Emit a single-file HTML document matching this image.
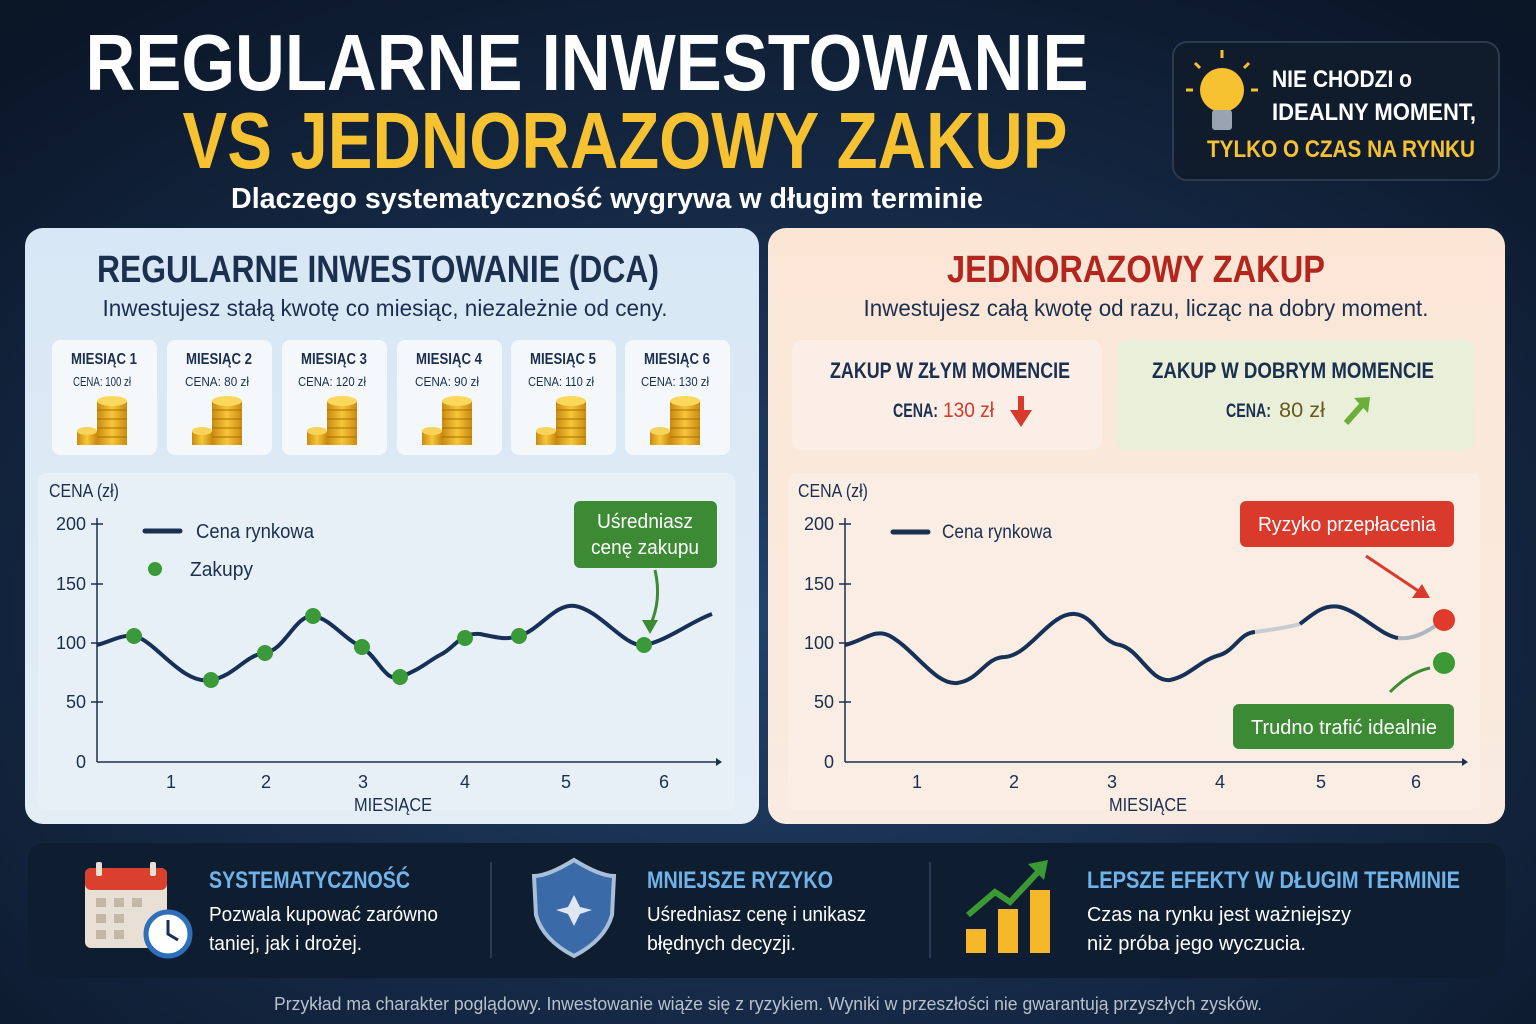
<!DOCTYPE html>
<html><head><meta charset="utf-8"><style>
html,body{margin:0;padding:0;width:1536px;height:1024px;overflow:hidden;background:#0c1a2e}
svg{display:block}
text{font-family:"Liberation Sans","DejaVu Sans",sans-serif}
</style></head><body>
<svg width="1536" height="1024" viewBox="0 0 1536 1024" xmlns="http://www.w3.org/2000/svg">
<defs>
<radialGradient id="bg" cx="50%" cy="60%" r="75%"><stop offset="0" stop-color="#22416a"/><stop offset="1" stop-color="#0a1526"/></radialGradient>
<linearGradient id="lp" x1="0" y1="0" x2="0" y2="1"><stop offset="0" stop-color="#d7e7f5"/><stop offset="1" stop-color="#e3edf6"/></linearGradient>
<linearGradient id="rp" x1="0" y1="0" x2="0" y2="1"><stop offset="0" stop-color="#fbe6d6"/><stop offset="1" stop-color="#f9ebe0"/></linearGradient>
<linearGradient id="gold" x1="0" y1="0" x2="1" y2="0"><stop offset="0" stop-color="#c98a10"/><stop offset=".5" stop-color="#f7c638"/><stop offset="1" stop-color="#c98a10"/></linearGradient>
<g id="coins">
<rect x="-20" y="8" width="20" height="14" fill="url(#gold)"/><ellipse cx="-10" cy="8" rx="10" ry="4" fill="#f8d35a"/>
<rect x="0" y="-22" width="30" height="44" fill="url(#gold)"/>
<g stroke="#a86e08" stroke-width="1"><line x1="0" y1="-13" x2="30" y2="-13"/><line x1="0" y1="-4" x2="30" y2="-4"/><line x1="0" y1="5" x2="30" y2="5"/><line x1="0" y1="14" x2="30" y2="14"/></g>
<ellipse cx="15" cy="-22" rx="15" ry="5" fill="#fbd85c"/>
</g>
</defs>
<rect width="1536" height="1024" fill="url(#bg)"/>

<text x="587" y="90" text-anchor="middle" font-size="80" font-weight="bold" fill="#fff" textLength="1003" lengthAdjust="spacingAndGlyphs">REGULARNE INWESTOWANIE</text>
<text x="625" y="168" text-anchor="middle" font-size="80" font-weight="bold" fill="#f6c232" textLength="885" lengthAdjust="spacingAndGlyphs">VS JEDNORAZOWY ZAKUP</text>
<text x="607" y="208" text-anchor="middle" font-size="29" font-weight="bold" fill="#fff" textLength="752" lengthAdjust="spacingAndGlyphs">Dlaczego systematyczność wygrywa w długim terminie</text>

<rect x="1173" y="42" width="326" height="138" rx="14" fill="#101c2c" stroke="#2a3a50" stroke-width="2"/>
<circle cx="1222" cy="90" r="22" fill="#f6c232"/><rect x="1212" y="110" width="20" height="20" rx="3" fill="#9aa4b0"/>
<g stroke="#f6c232" stroke-width="3"><line x1="1222" y1="58" x2="1222" y2="50"/><line x1="1193" y1="90" x2="1186" y2="90"/><line x1="1251" y1="90" x2="1258" y2="90"/><line x1="1200" y1="68" x2="1195" y2="63"/><line x1="1244" y1="68" x2="1249" y2="63"/></g>
<text x="1272" y="87" font-size="24" font-weight="bold" fill="#fff" textLength="140" lengthAdjust="spacingAndGlyphs">NIE CHODZI o</text>
<text x="1272" y="120" font-size="24" font-weight="bold" fill="#fff" textLength="204" lengthAdjust="spacingAndGlyphs">IDEALNY MOMENT,</text>
<text x="1207" y="157" font-size="24" font-weight="bold" fill="#f6c232" textLength="268" lengthAdjust="spacingAndGlyphs">TYLKO O CZAS NA RYNKU</text>

<rect x="25" y="228" width="734" height="596" rx="18" fill="url(#lp)"/>
<text x="378" y="282" text-anchor="middle" font-size="38" font-weight="bold" fill="#1b2f4f" textLength="562" lengthAdjust="spacingAndGlyphs">REGULARNE INWESTOWANIE (DCA)</text>
<text x="385" y="316" text-anchor="middle" font-size="23" fill="#1b2f4f" textLength="565" lengthAdjust="spacingAndGlyphs">Inwestujesz stałą kwotę co miesiąc, niezależnie od ceny.</text>
<g font-size="16">
<g transform="translate(52,340)"><rect width="105" height="115" rx="8" fill="#f4f8fb"/><text x="52" y="24" text-anchor="middle" font-weight="bold" fill="#1b2f4f" textLength="66" lengthAdjust="spacingAndGlyphs">MIESIĄC 1</text><text x="50" y="46" text-anchor="middle" font-size="13" fill="#1b2f4f" textLength="58" lengthAdjust="spacingAndGlyphs">CENA: 100 zł</text><use href="#coins" x="45" y="83"/></g>
<g transform="translate(167,340)"><rect width="105" height="115" rx="8" fill="#f4f8fb"/><text x="52" y="24" text-anchor="middle" font-weight="bold" fill="#1b2f4f" textLength="66" lengthAdjust="spacingAndGlyphs">MIESIĄC 2</text><text x="50" y="46" text-anchor="middle" font-size="13" fill="#1b2f4f" textLength="64" lengthAdjust="spacingAndGlyphs">CENA: 80 zł</text><use href="#coins" x="45" y="83"/></g>
<g transform="translate(282,340)"><rect width="105" height="115" rx="8" fill="#f4f8fb"/><text x="52" y="24" text-anchor="middle" font-weight="bold" fill="#1b2f4f" textLength="66" lengthAdjust="spacingAndGlyphs">MIESIĄC 3</text><text x="50" y="46" text-anchor="middle" font-size="13" fill="#1b2f4f" textLength="68" lengthAdjust="spacingAndGlyphs">CENA: 120 zł</text><use href="#coins" x="45" y="83"/></g>
<g transform="translate(397,340)"><rect width="105" height="115" rx="8" fill="#f4f8fb"/><text x="52" y="24" text-anchor="middle" font-weight="bold" fill="#1b2f4f" textLength="66" lengthAdjust="spacingAndGlyphs">MIESIĄC 4</text><text x="50" y="46" text-anchor="middle" font-size="13" fill="#1b2f4f" textLength="64" lengthAdjust="spacingAndGlyphs">CENA: 90 zł</text><use href="#coins" x="45" y="83"/></g>
<g transform="translate(511,340)"><rect width="105" height="115" rx="8" fill="#f4f8fb"/><text x="52" y="24" text-anchor="middle" font-weight="bold" fill="#1b2f4f" textLength="66" lengthAdjust="spacingAndGlyphs">MIESIĄC 5</text><text x="50" y="46" text-anchor="middle" font-size="13" fill="#1b2f4f" textLength="66" lengthAdjust="spacingAndGlyphs">CENA: 110 zł</text><use href="#coins" x="45" y="83"/></g>
<g transform="translate(625,340)"><rect width="105" height="115" rx="8" fill="#f4f8fb"/><text x="52" y="24" text-anchor="middle" font-weight="bold" fill="#1b2f4f" textLength="66" lengthAdjust="spacingAndGlyphs">MIESIĄC 6</text><text x="50" y="46" text-anchor="middle" font-size="13" fill="#1b2f4f" textLength="68" lengthAdjust="spacingAndGlyphs">CENA: 130 zł</text><use href="#coins" x="45" y="83"/></g>
</g>
<rect x="38" y="473" width="697" height="337" rx="8" fill="#e8f0f7"/>
<g font-size="18" fill="#1b2f4f">
<text x="49" y="497" textLength="70" lengthAdjust="spacingAndGlyphs">CENA (zł)</text>
<text x="86" y="530" text-anchor="end">200</text><text x="86" y="590" text-anchor="end">150</text><text x="86" y="649" text-anchor="end">100</text><text x="86" y="708" text-anchor="end">50</text><text x="86" y="768" text-anchor="end">0</text>
<text x="171" y="788" text-anchor="middle">1</text><text x="266" y="788" text-anchor="middle">2</text><text x="363" y="788" text-anchor="middle">3</text><text x="465" y="788" text-anchor="middle">4</text><text x="566" y="788" text-anchor="middle">5</text><text x="664" y="788" text-anchor="middle">6</text>
<text x="393" y="811" text-anchor="middle" textLength="78" lengthAdjust="spacingAndGlyphs">MIESIĄCE</text>
<text x="196" y="538" font-size="20" textLength="118" lengthAdjust="spacingAndGlyphs">Cena rynkowa</text><text x="190" y="576" font-size="20" textLength="63" lengthAdjust="spacingAndGlyphs">Zakupy</text>
</g>
<g stroke="#1b2f4f" stroke-width="1.5"><line x1="97" y1="518" x2="97" y2="762"/><line x1="97" y1="762" x2="716" y2="762"/>
<line x1="91" y1="524" x2="103" y2="524"/><line x1="91" y1="584" x2="103" y2="584"/><line x1="91" y1="643" x2="103" y2="643"/><line x1="91" y1="702" x2="103" y2="702"/></g>
<polygon points="716,758 722,762 716,766" fill="#1b2f4f"/>
<line x1="145" y1="531" x2="180" y2="531" stroke="#1b2f4f" stroke-width="5" stroke-linecap="round"/>
<circle cx="155" cy="569" r="7" fill="#3a9a3a"/>
<path d="M97,645 C115,640 125,632 140,638 C160,648 185,685 211,680 C235,676 245,655 265,653 C285,650 295,615 313,616 C330,618 345,640 362,647 C380,660 385,682 400,677 C420,670 430,660 440,655 C455,648 460,632 480,634 C500,638 505,640 519,636 C540,630 555,603 575,606 C600,610 625,648 644,645 C665,642 690,622 712,614" fill="none" stroke="#173057" stroke-width="4"/>
<g fill="#3a9a3a"><circle cx="134" cy="636" r="8"/><circle cx="211" cy="680" r="8"/><circle cx="265" cy="653" r="8"/><circle cx="313" cy="616" r="8"/><circle cx="362" cy="647" r="8"/><circle cx="400" cy="677" r="8"/><circle cx="465" cy="638" r="8"/><circle cx="519" cy="636" r="8"/><circle cx="644" cy="645" r="8"/></g>
<rect x="574" y="501" width="143" height="67" rx="6" fill="#3c8b34"/>
<text x="645" y="528" text-anchor="middle" font-size="20" fill="#fff" textLength="96" lengthAdjust="spacingAndGlyphs">Uśredniasz</text><text x="645" y="554" text-anchor="middle" font-size="20" fill="#fff" textLength="108" lengthAdjust="spacingAndGlyphs">cenę zakupu</text>
<path d="M655,570 Q662,600 650,626" fill="none" stroke="#3c8b34" stroke-width="3"/><polygon points="642,620 650,634 658,620" fill="#3c8b34"/>

<rect x="768" y="228" width="737" height="596" rx="18" fill="url(#rp)"/>
<text x="1136" y="282" text-anchor="middle" font-size="38" font-weight="bold" fill="#b3261e" textLength="378" lengthAdjust="spacingAndGlyphs">JEDNORAZOWY ZAKUP</text>
<text x="1146" y="316" text-anchor="middle" font-size="23" fill="#1b2f4f" textLength="565" lengthAdjust="spacingAndGlyphs">Inwestujesz całą kwotę od razu, licząc na dobry moment.</text>
<rect x="792" y="340" width="310" height="110" rx="10" fill="#fbeee6"/>
<text x="950" y="378" text-anchor="middle" font-size="22" font-weight="bold" fill="#1b2f4f" textLength="240" lengthAdjust="spacingAndGlyphs">ZAKUP W ZŁYM MOMENCIE</text>
<text x="893" y="417" font-size="19" font-weight="bold" fill="#1b2f4f" textLength="45" lengthAdjust="spacingAndGlyphs">CENA:</text>
<text x="943" y="417" font-size="21" fill="#d63a2a" textLength="51" lengthAdjust="spacingAndGlyphs">130 zł</text>
<path d="M1021,396 L1021,414" stroke="#d63a2a" stroke-width="6"/><polygon points="1010,410 1032,410 1021,427" fill="#d63a2a"/>
<rect x="1116" y="340" width="359" height="110" rx="10" fill="#e9efd9"/>
<text x="1293" y="378" text-anchor="middle" font-size="22" font-weight="bold" fill="#1b2f4f" textLength="282" lengthAdjust="spacingAndGlyphs">ZAKUP W DOBRYM MOMENCIE</text>
<text x="1226" y="417" font-size="19" font-weight="bold" fill="#1b2f4f" textLength="45" lengthAdjust="spacingAndGlyphs">CENA:</text>
<text x="1279" y="417" font-size="21" fill="#6b5a1e" textLength="46" lengthAdjust="spacingAndGlyphs">80 zł</text>
<path d="M1346,423 L1362,405" stroke="#6cae3a" stroke-width="6"/><polygon points="1354,398 1370,397 1368,413" fill="#6cae3a"/>
<rect x="788" y="473" width="692" height="337" rx="8" fill="#faede3"/>
<g font-size="18" fill="#1b2f4f">
<text x="798" y="497" textLength="70" lengthAdjust="spacingAndGlyphs">CENA (zł)</text>
<text x="834" y="530" text-anchor="end">200</text><text x="834" y="590" text-anchor="end">150</text><text x="834" y="649" text-anchor="end">100</text><text x="834" y="708" text-anchor="end">50</text><text x="834" y="768" text-anchor="end">0</text>
<text x="917" y="788" text-anchor="middle">1</text><text x="1014" y="788" text-anchor="middle">2</text><text x="1112" y="788" text-anchor="middle">3</text><text x="1220" y="788" text-anchor="middle">4</text><text x="1321" y="788" text-anchor="middle">5</text><text x="1416" y="788" text-anchor="middle">6</text>
<text x="1148" y="811" text-anchor="middle" textLength="78" lengthAdjust="spacingAndGlyphs">MIESIĄCE</text>
<text x="942" y="538" font-size="19" textLength="110" lengthAdjust="spacingAndGlyphs">Cena rynkowa</text>
</g>
<g stroke="#1b2f4f" stroke-width="1.5"><line x1="845" y1="518" x2="845" y2="762"/><line x1="845" y1="762" x2="1462" y2="762"/>
<line x1="839" y1="524" x2="851" y2="524"/><line x1="839" y1="584" x2="851" y2="584"/><line x1="839" y1="643" x2="851" y2="643"/><line x1="839" y1="702" x2="851" y2="702"/></g>
<polygon points="1462,758 1468,762 1462,766" fill="#1b2f4f"/>
<line x1="893" y1="532" x2="928" y2="532" stroke="#1b2f4f" stroke-width="5" stroke-linecap="round"/>
<path d="M845,645 C865,640 875,628 890,636 C915,650 935,685 957,683 C980,680 985,657 1005,657 C1030,655 1050,612 1075,614 C1095,616 1100,642 1120,645 C1140,650 1150,682 1170,680 C1190,676 1200,660 1220,655 C1235,650 1240,633 1255,632" fill="none" stroke="#173057" stroke-width="4"/>
<path d="M1255,632 C1270,630 1285,628 1300,624" fill="none" stroke="#c8ccd2" stroke-width="4"/>
<path d="M1300,624 C1315,612 1325,604 1340,607 C1360,612 1380,635 1398,638" fill="none" stroke="#173057" stroke-width="4"/>
<path d="M1398,638 C1415,640 1430,630 1444,620" fill="none" stroke="#aeb6c2" stroke-width="4"/>
<circle cx="1444" cy="620" r="11" fill="#e03a2a"/><circle cx="1444" cy="663" r="11" fill="#3c9a34"/>
<rect x="1240" y="501" width="214" height="46" rx="6" fill="#d93a2c"/>
<text x="1347" y="531" text-anchor="middle" font-size="20" fill="#fff" textLength="178" lengthAdjust="spacingAndGlyphs">Ryzyko przepłacenia</text>
<path d="M1366,556 L1420,592" stroke="#d93a2c" stroke-width="3"/><polygon points="1412,598 1430,598 1422,584" fill="#d93a2c"/>
<path d="M1390,692 Q1410,672 1430,668" fill="none" stroke="#3c8b34" stroke-width="3"/>
<rect x="1233" y="704" width="221" height="45" rx="6" fill="#3c8b34"/>
<text x="1344" y="734" text-anchor="middle" font-size="20" fill="#fff" textLength="186" lengthAdjust="spacingAndGlyphs">Trudno trafić idealnie</text>

<rect x="28" y="843" width="1477" height="135" rx="16" fill="#0f1d31"/>
<line x1="491" y1="862" x2="491" y2="958" stroke="#2a3a52" stroke-width="2"/>
<line x1="930" y1="862" x2="930" y2="958" stroke="#2a3a52" stroke-width="2"/>
<rect x="85" y="868" width="82" height="80" rx="6" fill="#e8e0d4"/><rect x="85" y="868" width="82" height="22" rx="6" fill="#d9412e"/>
<rect x="96" y="862" width="6" height="14" rx="2" fill="#e8e0d4"/><rect x="150" y="862" width="6" height="14" rx="2" fill="#e8e0d4"/>
<g fill="#c3b8a8"><rect x="96" y="898" width="10" height="9"/><rect x="114" y="898" width="10" height="9"/><rect x="132" y="898" width="10" height="9"/><rect x="96" y="914" width="10" height="9"/><rect x="114" y="914" width="10" height="9"/><rect x="96" y="930" width="10" height="9"/><rect x="114" y="930" width="10" height="9"/></g>
<circle cx="168" cy="934" r="22" fill="#fff" stroke="#2d6fb8" stroke-width="5"/><path d="M168,920 L168,934 L178,940" stroke="#173057" stroke-width="3" fill="none"/>
<text x="209" y="888" font-size="24" font-weight="bold" fill="#6fb3e8" textLength="201" lengthAdjust="spacingAndGlyphs">SYSTEMATYCZNOŚĆ</text>
<text x="209" y="921" font-size="20" fill="#fff" textLength="229" lengthAdjust="spacingAndGlyphs">Pozwala kupować zarówno</text><text x="209" y="950" font-size="20" fill="#fff" textLength="153" lengthAdjust="spacingAndGlyphs">taniej, jak i drożej.</text>
<path d="M574,860 Q600,876 614,876 L612,915 Q605,940 574,956 Q543,940 536,915 L534,876 Q548,876 574,860Z" fill="#3a6aa8" stroke="#a9bfd8" stroke-width="4"/>
<path d="M574,895 L580,907 L592,910 L580,914 L574,926 L568,914 L556,910 L568,907Z" fill="#dfe8f2"/>
<text x="647" y="888" font-size="24" font-weight="bold" fill="#6fb3e8" textLength="186" lengthAdjust="spacingAndGlyphs">MNIEJSZE RYZYKO</text>
<text x="647" y="921" font-size="20" fill="#fff" textLength="219" lengthAdjust="spacingAndGlyphs">Uśredniasz cenę i unikasz</text><text x="647" y="950" font-size="20" fill="#fff" textLength="149" lengthAdjust="spacingAndGlyphs">błędnych decyzji.</text>
<rect x="966" y="929" width="20" height="24" fill="#f6b82a"/><rect x="998" y="909" width="20" height="44" fill="#f6b82a"/><rect x="1030" y="890" width="20" height="63" fill="#f6b82a"/>
<path d="M968,915 L995,892 L1010,902 L1040,870" stroke="#3c9a34" stroke-width="6" fill="none"/><polygon points="1028,864 1048,860 1044,880" fill="#3c9a34"/>
<text x="1087" y="888" font-size="24" font-weight="bold" fill="#6fb3e8" textLength="373" lengthAdjust="spacingAndGlyphs">LEPSZE EFEKTY W DŁUGIM TERMINIE</text>
<text x="1087" y="921" font-size="20" fill="#fff" textLength="264" lengthAdjust="spacingAndGlyphs">Czas na rynku jest ważniejszy</text><text x="1087" y="950" font-size="20" fill="#fff" textLength="219" lengthAdjust="spacingAndGlyphs">niż próba jego wyczucia.</text>

<text x="768" y="1010" text-anchor="middle" font-size="18" fill="#b8c0cc" textLength="988" lengthAdjust="spacingAndGlyphs">Przykład ma charakter poglądowy. Inwestowanie wiąże się z ryzykiem. Wyniki w przeszłości nie gwarantują przyszłych zysków.</text>
</svg>
</body></html>
